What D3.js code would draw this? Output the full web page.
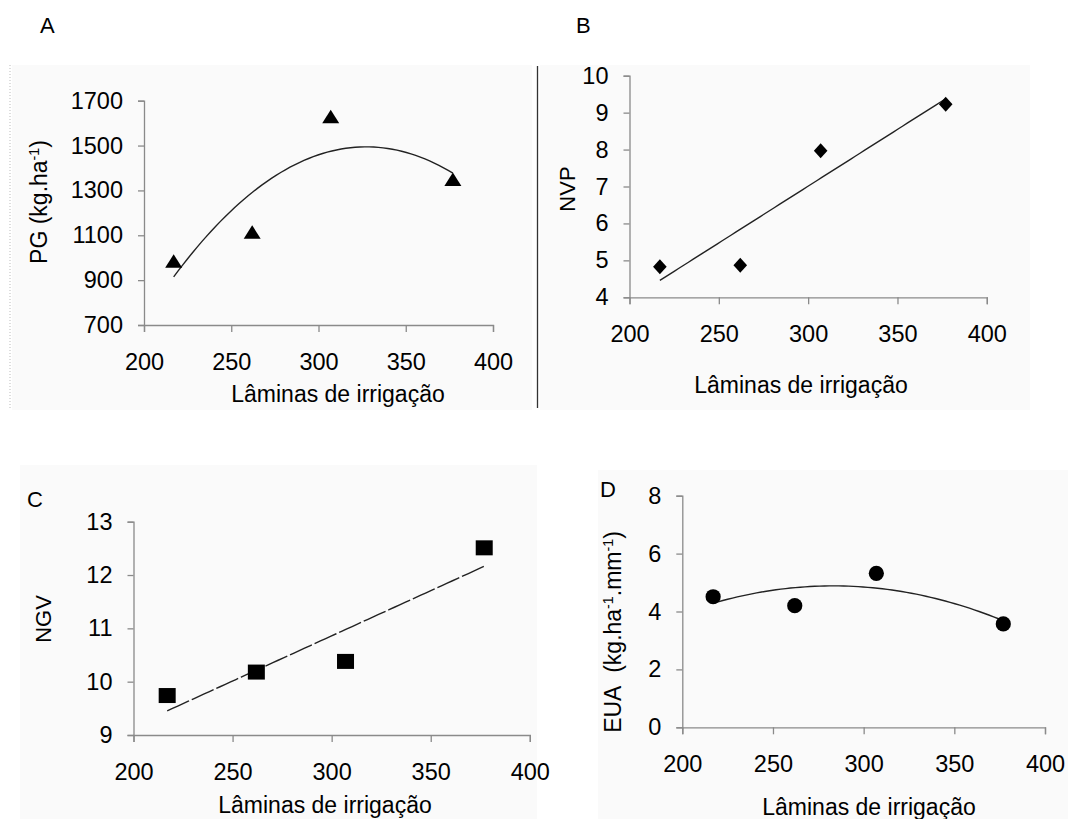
<!DOCTYPE html>
<html>
<head>
<meta charset="utf-8">
<script src="https://cdn.jsdelivr.net/npm/d3@7"></script>
<style>
  body { margin: 0; background: #fff; }
  text { font-family: "Liberation Sans", Arial, sans-serif; fill: #000; }
</style>
</head>
<body>
<svg id="chart" width="1068" height="819"></svg>
<script>
// ── Data ────────────────────────────────────────────────────
const laminas   = [217, 262, 307, 377];          // irrigation depths
const pgValues  = [980, 1109, 1624, 1344];       // A: PG (kg/ha)
const nvpValues = [4.83, 4.87, 7.97, 9.23];      // B: NVP
const ngvValues = [9.74, 10.18, 10.38, 12.51];   // C: NGV
const euaValues = [4.51, 4.2, 5.32, 3.57];       // D: EUA

const xTicks   = [200, 250, 300, 350, 400];
const pgTicks  = [700, 900, 1100, 1300, 1500, 1700];
const nvpTicks = [4, 5, 6, 7, 8, 9, 10];
const ngvTicks = [9, 10, 11, 12, 13];
const euaTicks = [0, 2, 4, 6, 8];

const svg = d3.select("#chart");
const AXIS_COLOR = "#8a8a8a";

// Least squares polynomial fit (like the spreadsheet trendline)
function polyfit(xs, ys, deg) {
  const n = deg + 1;
  const m = d3.mean(xs);
  const A = Array.from({ length: n }, () => new Array(n + 1).fill(0));
  xs.forEach((x, k) => {
    const u = x - m;
    for (let i = 0; i < n; i++) {
      for (let j = 0; j < n; j++) A[i][j] += Math.pow(u, i + j);
      A[i][n] += ys[k] * Math.pow(u, i);
    }
  });
  for (let i = 0; i < n; i++) {
    for (let r = 0; r < n; r++) {
      if (r === i) continue;
      const f = A[r][i] / A[i][i];
      for (let c = i; c <= n; c++) A[r][c] -= f * A[i][c];
    }
  }
  const coef = A.map((row, i) => row[n] / row[i]);
  return x => coef.reduce((s, c, i) => s + c * Math.pow(x - m, i), 0);
}

// Marker shapes
const markers = {
  triangle: g => g.append("path").attr("d", "M0,-8 L8.5,5.5 L-8.5,5.5 Z"),
  diamond:  g => g.append("path").attr("d", "M0,-7.5 L6.8,0 L0,7.5 L-6.8,0 Z"),
  square:   g => g.append("rect").attr("x", -8.5).attr("y", -7.5).attr("width", 17).attr("height", 15),
  circle:   g => g.append("circle").attr("r", 7.6)
};

// Appends a text with optional superscripts: parts = [[str, sup?], ...]
function richText(sel, parts) {
  parts.forEach(([s, sup]) => {
    const t = sel.append("tspan").text(s);
    if (sup) t.attr("font-size", "0.62em").attr("baseline-shift", "super");
  });
  return sel;
}

function drawPanel(p) {
  const g = svg.append("g");

  // faint chart-area background
  g.append("rect")
    .attr("x", p.bg[0]).attr("y", p.bg[1])
    .attr("width", p.bg[2]).attr("height", p.bg[3])
    .attr("fill", "#fafafa");

  const x = d3.scaleLinear().domain([200, 400]).range(p.xRange);
  const y = d3.scaleLinear().domain(d3.extent(p.yTicks)).range(p.yRange);

  // ── Axes ──
  const xa = g.append("g")
    .attr("transform", `translate(0,${y(p.yTicks[0])})`)
    .call(d3.axisBottom(x).tickValues(xTicks).tickFormat(d3.format("d"))
      .tickSize(7).tickPadding(21));
  const ya = g.append("g")
    .attr("transform", `translate(${x(200)},0)`)
    .call(d3.axisLeft(y).tickValues(p.yTicks).tickFormat(d3.format("d"))
      .tickSize(6).tickPadding(15));

  [xa, ya].forEach(a => {
    a.selectAll("path, line").attr("stroke", AXIS_COLOR).attr("stroke-width", 1.3);
    a.selectAll("text").attr("font-size", 23.5).attr("fill", "#000")
      .attr("font-family", "'Liberation Sans', Arial, sans-serif");
  });

  // ── Trend line ──
  const fit = polyfit(laminas, p.values, p.degree);
  const x0 = d3.min(laminas), x1 = d3.max(laminas);
  const pts = d3.range(0, 61).map(i => {
    const xv = x0 + (x1 - x0) * i / 60;
    return [x(xv), y(fit(xv))];
  });
  g.append("path")
    .attr("d", d3.line()(pts))
    .attr("fill", "none")
    .attr("stroke", "#222")
    .attr("stroke-width", 1.4)
    .attr("stroke-dasharray", p.dashed ? "24,3" : null);

  // ── Points ──
  laminas.forEach((lx, i) => {
    const m = g.append("g")
      .attr("transform", `translate(${x(lx)},${y(p.values[i])})`)
      .attr("fill", "#000");
    markers[p.marker](m);
  });

  // ── Labels ──
  g.append("text")
    .attr("x", p.letter[0]).attr("y", p.letter[1])
    .attr("font-size", 22)
    .text(p.letterText);

  g.append("text")
    .attr("x", p.xTitle[0]).attr("y", p.xTitle[1])
    .attr("text-anchor", "middle")
    .attr("font-size", 23)
    .text("Lâminas de irrigação");

  const yt = g.append("text")
    .attr("transform", `translate(${p.yTitle[0]},${p.yTitle[1]}) rotate(-90)`)
    .attr("text-anchor", "middle")
    .attr("font-size", p.yTitleSize);
  richText(yt, p.yTitleParts);
}

drawPanel({
  letterText: "A", letter: [40, 33],
  bg: [12, 65, 520, 345],
  xRange: [144, 493], yRange: [325, 100.7], yTicks: pgTicks,
  values: pgValues, degree: 2, marker: "triangle",
  xTitle: [338, 402], yTitle: [47, 202], yTitleSize: 23,
  yTitleParts: [["PG (kg.ha"], ["-1", true], [")"]]
});

drawPanel({
  letterText: "B", letter: [576, 33],
  bg: [540, 65, 490, 345],
  xRange: [629.5, 986.8], yRange: [297.3, 75.7], yTicks: nvpTicks,
  values: nvpValues, degree: 1, marker: "diamond",
  xTitle: [801, 393], yTitle: [575, 189], yTitleSize: 22,
  yTitleParts: [["NVP"]]
});

drawPanel({
  letterText: "C", letter: [27, 507],
  bg: [20, 465, 517, 354],
  xRange: [133.5, 529.8], yRange: [735, 521.7], yTicks: ngvTicks,
  values: ngvValues, degree: 1, marker: "square", dashed: true,
  xTitle: [325, 813], yTitle: [51, 619], yTitleSize: 22,
  yTitleParts: [["NGV"]]
});

drawPanel({
  letterText: "D", letter: [600, 497],
  bg: [598, 470, 470, 349],
  xRange: [682.3, 1045], yRange: [727.3, 495.7], yTicks: euaTicks,
  values: euaValues, degree: 2, marker: "circle",
  xTitle: [869, 815], yTitle: [621, 632], yTitleSize: 23,
  yTitleParts: [["EUA\u00a0\u00a0(kg.ha"], ["-1", true], [".mm"], ["-1", true], [")"]]
});

// Panel frame remnants: dotted left edge of A and separator between A and B
svg.append("line")
  .attr("x1", 10).attr("x2", 10).attr("y1", 65).attr("y2", 408)
  .attr("stroke", "#bbb").attr("stroke-dasharray", "1,2");
svg.append("line")
  .attr("x1", 537.5).attr("x2", 537.5).attr("y1", 66).attr("y2", 408)
  .attr("stroke", "#333").attr("stroke-width", 1.3);
</script>
</body>
</html>
